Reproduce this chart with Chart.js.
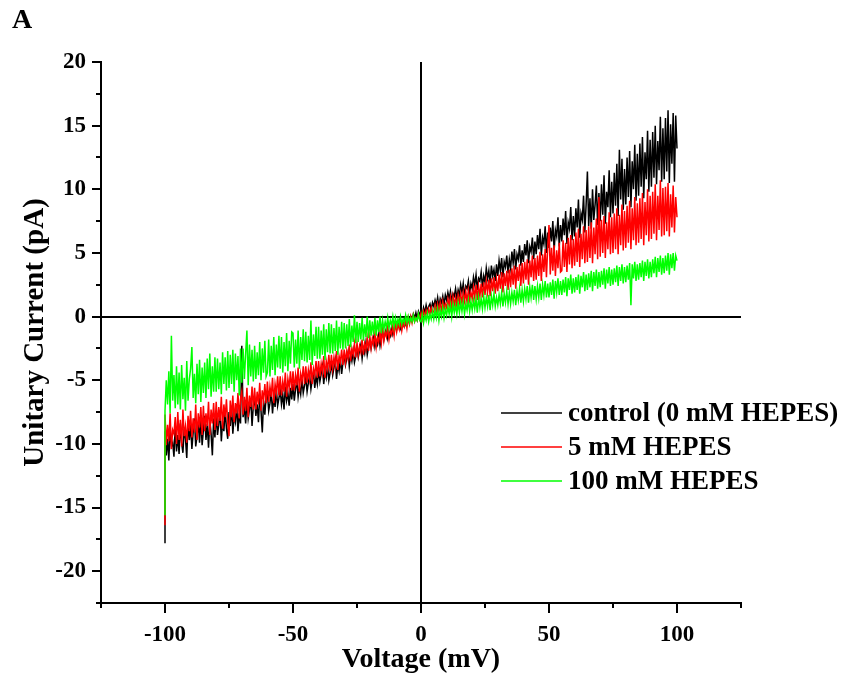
<!DOCTYPE html>
<html>
<head>
<meta charset="utf-8">
<script src="https://cdn.jsdelivr.net/npm/chart.js@4.4.1/dist/chart.umd.min.js"></script>
<style>
  html, body { margin: 0; padding: 0; background: #fff; }
  #wrap { width: 849px; height: 679px; }
</style>
</head>
<body>
<div id="wrap"><canvas id="c" width="849" height="679"></canvas></div>
<script>
// ---- data ----
const panelLabel = 'A';
const xTitle = 'Voltage (mV)';
const yTitle = 'Unitary Current (pA)';
const seriesNames = ['control (0 mM HEPES)', '5 mM HEPES', '100 mM HEPES'];
const seriesColors = ['#000000', '#ff0000', '#00ff00'];
const xTickLabels = [-100, -50, 0, 50, 100];
const yTickLabels = [-20, -15, -10, -5, 0, 5, 10, 15, 20];

// voltage ramp samples (mV); the first sample is the onset transient at -100 mV
const voltage = [-100,
-100,-99.5,-99,-98.5,-98,-97.5,-97,-96.5,-96,-95.5,
-95,-94.5,-94,-93.5,-93,-92.5,-92,-91.5,-91,-90.5,
-90,-89.5,-89,-88.5,-88,-87.5,-87,-86.5,-86,-85.5,
-85,-84.5,-84,-83.5,-83,-82.5,-82,-81.5,-81,-80.5,
-80,-79.5,-79,-78.5,-78,-77.5,-77,-76.5,-76,-75.5,
-75,-74.5,-74,-73.5,-73,-72.5,-72,-71.5,-71,-70.5,
-70,-69.5,-69,-68.5,-68,-67.5,-67,-66.5,-66,-65.5,
-65,-64.5,-64,-63.5,-63,-62.5,-62,-61.5,-61,-60.5,
-60,-59.5,-59,-58.5,-58,-57.5,-57,-56.5,-56,-55.5,
-55,-54.5,-54,-53.5,-53,-52.5,-52,-51.5,-51,-50.5,
-50,-49.5,-49,-48.5,-48,-47.5,-47,-46.5,-46,-45.5,
-45,-44.5,-44,-43.5,-43,-42.5,-42,-41.5,-41,-40.5,
-40,-39.5,-39,-38.5,-38,-37.5,-37,-36.5,-36,-35.5,
-35,-34.5,-34,-33.5,-33,-32.5,-32,-31.5,-31,-30.5,
-30,-29.5,-29,-28.5,-28,-27.5,-27,-26.5,-26,-25.5,
-25,-24.5,-24,-23.5,-23,-22.5,-22,-21.5,-21,-20.5,
-20,-19.5,-19,-18.5,-18,-17.5,-17,-16.5,-16,-15.5,
-15,-14.5,-14,-13.5,-13,-12.5,-12,-11.5,-11,-10.5,
-10,-9.5,-9,-8.5,-8,-7.5,-7,-6.5,-6,-5.5,
-5,-4.5,-4,-3.5,-3,-2.5,-2,-1.5,-1,-0.5,
0,0.5,1,1.5,2,2.5,3,3.5,4,4.5,
5,5.5,6,6.5,7,7.5,8,8.5,9,9.5,
10,10.5,11,11.5,12,12.5,13,13.5,14,14.5,
15,15.5,16,16.5,17,17.5,18,18.5,19,19.5,
20,20.5,21,21.5,22,22.5,23,23.5,24,24.5,
25,25.5,26,26.5,27,27.5,28,28.5,29,29.5,
30,30.5,31,31.5,32,32.5,33,33.5,34,34.5,
35,35.5,36,36.5,37,37.5,38,38.5,39,39.5,
40,40.5,41,41.5,42,42.5,43,43.5,44,44.5,
45,45.5,46,46.5,47,47.5,48,48.5,49,49.5,
50,50.5,51,51.5,52,52.5,53,53.5,54,54.5,
55,55.5,56,56.5,57,57.5,58,58.5,59,59.5,
60,60.5,61,61.5,62,62.5,63,63.5,64,64.5,
65,65.5,66,66.5,67,67.5,68,68.5,69,69.5,
70,70.5,71,71.5,72,72.5,73,73.5,74,74.5,
75,75.5,76,76.5,77,77.5,78,78.5,79,79.5,
80,80.5,81,81.5,82,82.5,83,83.5,84,84.5,
85,85.5,86,86.5,87,87.5,88,88.5,89,89.5,
90,90.5,91,91.5,92,92.5,93,93.5,94,94.5,
95,95.5,96,96.5,97,97.5,98,98.5,99,99.5,
100];

const controlCurrent = [-17.8,
-9.0,-10.9,-9.6,-11.3,-8.7,-10.2,-9.9,-11.0,-8.5,-10.6,
-9.3,-10.8,-8.4,-9.9,-10.7,-8.8,-9.6,-11.1,-8.2,-9.7,
-8.5,-10.4,-9.1,-8.0,-10.2,-9.4,-8.3,-9.9,-7.9,-10.1,
-8.9,-7.8,-9.7,-8.4,-10.3,-8.1,-9.2,-10.9,-8.0,-9.5,
-7.6,-9.3,-8.5,-7.4,-9.8,-8.2,-9.0,-7.3,-8.8,-9.6,
-7.5,-8.6,-7.0,-9.2,-7.8,-8.3,-6.9,-9.0,-7.6,-8.4,
-2.3,-7.9,-7.1,-8.4,-6.6,-8.0,-7.3,-6.4,-8.6,-7.0,
-6.5,-7.8,-6.9,-8.3,-6.2,-7.4,-9.1,-6.6,-7.7,-6.3,
-6.0,-7.4,-6.8,-5.9,-7.6,-6.3,-7.1,-5.7,-7.0,-6.4,
-5.8,-6.9,-6.1,-7.3,-5.5,-6.6,-6.0,-7.0,-5.6,-6.5,
-5.3,-6.6,-5.7,-5.0,-6.3,-5.5,-6.1,-4.9,-6.0,-5.4,
-4.8,-5.9,-5.2,-4.6,-5.7,-5.0,-4.4,-5.6,-4.7,-5.3,
-4.2,-5.1,-4.5,-3.9,-5.3,-4.3,-4.8,-3.8,-5.0,-4.4,
-3.7,-4.6,-4.0,-3.4,-4.9,-3.8,-4.3,-3.3,-4.5,-3.6,
-3.1,-3.8,-3.3,-2.8,-3.9,-3.0,-3.5,-2.7,-3.6,-3.1,
-2.4,-3.2,-2.7,-2.2,-3.3,-2.5,-2.9,-2.0,-3.0,-2.4,
-1.8,-2.5,-2.0,-1.6,-2.4,-1.9,-2.2,-1.4,-2.3,-1.7,
-1.1,-1.8,-1.3,-0.9,-1.7,-1.2,-1.5,-0.8,-1.4,-1.0,
-0.5,-1.0,-0.6,-0.3,-0.9,-0.5,-0.7,-0.2,-0.6,-0.3,
-0.1,-0.4,0.0,-0.3,0.2,-0.1,0.3,-0.2,0.4,0.1,
0.5,0.1,0.7,0.3,0.9,0.4,0.8,1.0,0.5,1.1,
0.8,1.3,0.9,1.5,0.7,1.4,1.1,1.6,0.9,1.7,
1.3,1.9,1.4,2.0,1.2,1.8,1.6,2.2,1.4,2.1,
1.7,2.5,1.9,2.6,1.6,2.4,2.2,2.8,1.8,2.6,
2.2,3.1,2.5,3.3,2.1,3.0,2.8,3.5,2.3,3.2,
2.7,3.8,3.0,3.6,2.6,4.0,3.2,3.7,2.8,4.1,
3.2,4.4,3.6,4.6,3.1,4.3,3.9,4.8,3.4,4.5,
3.8,5.1,4.2,5.3,3.7,4.9,4.5,5.6,4.0,5.2,
4.3,5.7,4.8,6.0,4.2,5.5,5.1,6.2,4.5,5.9,
4.9,6.4,5.3,6.9,4.8,6.2,5.7,7.1,5.0,6.6,
5.4,7.0,5.9,7.5,5.2,6.8,6.3,7.8,5.5,7.2,
5.9,7.7,6.4,8.3,5.7,7.4,6.9,8.6,6.0,7.9,
6.3,8.5,7.0,9.2,6.2,8.1,7.6,9.5,6.6,8.8,
11.4,7.1,9.3,6.9,10.0,7.6,8.8,10.3,7.2,9.7,
7.5,10.4,8.0,11.1,7.3,9.8,8.6,11.5,7.8,10.6,
8.1,11.3,8.7,12.0,7.9,13.1,9.2,12.4,8.4,11.6,
8.8,12.5,9.4,13.0,8.6,12.2,10.0,13.5,9.1,12.8,
9.5,13.6,10.2,14.1,9.3,12.9,10.8,14.6,9.8,13.9,
10.2,14.5,10.9,15.0,10.4,13.8,11.5,15.7,10.6,14.8,
10.8,15.6,11.4,16.2,10.5,15.1,12.0,16.0,10.6,15.8,
13.2];

const hepes5Current = [-16.4,
-7.7,-10.1,-8.5,-9.8,-7.6,-10.4,-8.9,-9.2,-7.9,-10.0,
-7.5,-9.7,-8.1,-10.2,-7.3,-9.4,-8.6,-9.9,-7.8,-9.0,
-7.4,-9.5,-8.0,-9.1,-6.9,-9.7,-7.6,-8.7,-7.1,-9.3,
-7.0,-9.0,-7.6,-8.6,-6.7,-9.3,-7.3,-8.4,-6.8,-8.9,
-6.7,-8.6,-7.1,-8.2,-6.3,-8.8,-6.9,-7.9,-6.5,-8.4,
-9.4,-6.6,-7.9,-6.2,-8.3,-6.8,-7.6,-6.0,-8.0,-6.5,
-5.9,-7.7,-6.3,-7.4,-5.6,-7.9,-6.2,-7.1,-5.5,-7.3,
-5.6,-7.3,-5.9,-6.9,-5.2,-7.4,-5.8,-6.6,-5.3,-6.8,
-5.1,-6.7,-5.5,-6.3,-4.8,-6.8,-5.3,-6.0,-4.7,-6.2,
-4.7,-6.2,-5.1,-5.9,-4.4,-6.3,-4.9,-5.6,-4.3,-5.8,
-4.3,-5.8,-4.6,-5.4,-4.0,-5.9,-4.5,-5.1,-3.9,-5.3,
-3.9,-5.2,-4.2,-4.9,-3.6,-5.3,-4.1,-4.6,-3.5,-4.8,
-3.5,-4.7,-3.7,-4.4,-3.1,-4.8,-3.5,-4.1,-3.0,-4.3,
-3.0,-4.1,-3.2,-3.9,-2.7,-4.2,-3.1,-3.6,-2.6,-3.8,
-2.6,-3.6,-2.7,-3.3,-2.2,-3.5,-2.5,-3.0,-2.1,-3.2,
-2.1,-3.0,-2.3,-2.8,-1.8,-3.0,-2.1,-2.6,-1.7,-2.7,
-1.6,-2.5,-1.7,-2.2,-1.3,-2.4,-1.6,-2.0,-1.2,-2.1,
-1.0,-1.9,-1.2,-1.6,-0.8,-1.8,-1.1,-1.4,-0.7,-1.5,
-0.5,-1.2,-0.6,-1.0,-0.3,-1.1,-0.5,-0.8,-0.2,-0.9,
-0.1,-0.6,0.0,-0.5,0.1,-0.4,-0.1,-0.3,0.2,-0.2,
0.3,-0.2,0.4,0.0,0.5,0.1,0.6,0.2,0.7,0.3,
0.4,0.9,0.3,1.0,0.5,1.1,0.4,1.2,0.6,1.0,
0.7,1.4,0.8,1.5,0.6,1.6,0.9,1.5,0.8,1.7,
1.1,1.8,1.0,1.9,1.2,2.0,1.1,2.1,1.3,1.9,
1.4,2.3,1.5,2.5,1.3,2.4,1.6,2.6,1.5,2.7,
1.7,2.8,1.9,2.9,1.6,3.0,2.0,3.1,1.8,2.9,
2.0,3.3,2.2,3.5,1.9,3.4,2.4,3.6,2.1,3.7,
2.3,3.8,2.5,4.0,2.2,3.9,2.8,4.1,2.4,4.2,
2.6,4.3,2.9,4.5,2.5,4.4,3.1,4.8,2.8,4.6,
2.9,4.8,3.2,5.1,2.8,4.9,3.5,5.3,3.1,5.5,
7.2,3.3,5.4,3.6,5.6,3.2,5.2,3.8,5.8,3.5,
3.6,6.0,3.9,5.8,3.5,6.2,4.1,6.4,3.8,6.1,
4.0,6.6,4.3,6.9,3.9,6.5,4.5,7.1,4.2,6.8,
4.3,7.1,4.6,7.4,4.2,7.0,4.9,7.7,4.5,9.4,
4.7,7.6,5.0,7.9,4.6,7.4,5.3,8.2,4.9,7.8,
5.0,8.1,5.3,8.5,4.9,8.0,5.6,8.8,5.2,8.3,
5.4,8.7,5.8,9.1,5.3,8.5,6.0,9.4,5.6,8.9,
5.8,9.3,6.1,9.7,5.6,9.0,6.4,10.0,5.9,9.5,
6.1,9.8,6.5,10.4,6.0,9.5,6.8,10.7,6.3,10.1,
6.4,10.2,6.7,10.5,6.3,9.6,7.0,10.3,6.6,9.4,
7.8];

const hepes100Current = [-15.6,
-7.4,-5.0,-6.9,-4.3,-7.6,-1.5,-6.6,-4.6,-7.2,-3.9,
-6.9,-4.4,-7.3,-3.8,-6.5,-4.8,-7.4,-3.5,-6.6,-4.9,
-4.1,-2.4,-6.4,-4.5,-6.8,-3.7,-6.1,-3.4,-6.7,-4.0,
-6.0,-3.6,-6.4,-3.3,-5.7,-2.9,-6.3,-3.9,-5.9,-3.2,
-5.9,-3.3,-5.7,-3.6,-6.1,-2.8,-5.3,-3.2,-5.8,-2.7,
-5.6,-3.0,-5.3,-2.6,-5.9,-2.9,-5.0,-3.1,-6.2,-2.5,
-5.2,-2.5,-4.9,-2.9,-1.1,-5.4,-2.2,-4.7,-2.6,-5.1,
-2.3,-4.9,-2.8,-4.6,-2.0,-5.0,-2.5,-4.4,-1.9,-4.7,
-4.4,-1.8,-4.7,-2.3,-4.2,-1.6,-4.6,-2.2,-4.0,-1.5,
-4.1,-1.6,-4.4,-2.0,-3.9,-1.3,-4.3,-1.9,-3.7,-1.2,
-1.3,-4.0,-1.8,-3.7,-1.1,-4.1,-1.6,-3.4,-1.0,-3.5,
-1.2,-3.6,-1.5,-3.4,-0.3,-3.8,-1.4,-3.1,-0.8,-3.3,
-0.8,-3.3,-1.1,-3.0,-0.6,-3.4,-1.0,-2.8,-0.5,-2.9,
-0.6,-2.9,-0.9,-2.7,-0.3,-3.0,-0.8,-2.5,-0.4,-2.6,
-0.5,-2.5,-0.6,-2.3,-0.2,-2.4,-0.7,-2.0,0.1,-2.1,
-0.4,-2.0,-0.5,-1.8,-0.1,-1.9,-0.6,-1.6,0.0,-1.7,
-0.3,-1.5,-0.4,-1.4,-0.1,-1.5,-0.3,-1.2,0.0,-1.3,
-0.3,-1.0,-0.4,-0.9,-0.1,-0.9,-0.3,-0.7,0.0,-0.8,
-0.1,-0.7,-0.2,-0.6,0.0,-0.6,-0.2,-0.5,0.1,-0.5,
0.0,-0.5,-0.1,-0.4,0.1,-0.4,-0.1,-0.3,0.2,-0.3,
-0.4,0.2,-0.5,0.1,-0.3,0.3,-0.4,0.2,-0.2,0.4,
-0.2,0.5,-0.1,0.6,-0.3,0.5,0.0,0.7,-0.1,0.6,
0.1,0.8,0.2,0.9,0.0,1.0,0.3,0.9,0.2,1.1,
0.3,1.1,0.4,1.2,0.2,1.0,0.5,1.3,0.4,1.2,
0.5,1.3,0.6,1.4,0.3,1.5,0.7,1.4,0.6,1.6,
0.7,1.5,0.8,1.7,0.5,1.6,0.9,1.8,0.8,1.5,
0.9,1.7,1.0,1.9,0.8,1.8,1.1,2.0,1.0,1.9,
1.0,1.9,1.2,2.1,0.9,2.0,1.3,2.2,1.1,2.1,
1.2,2.2,1.4,2.4,1.1,2.3,1.5,2.5,1.3,2.4,
1.4,2.4,1.5,2.6,1.3,2.5,1.7,2.8,1.5,2.6,
1.5,2.7,1.7,2.9,1.4,2.8,1.9,3.0,1.7,2.8,
1.7,2.9,1.9,3.1,1.6,3.0,2.1,3.3,1.8,3.0,
1.9,3.1,2.1,3.3,1.8,3.2,2.3,3.5,2.0,3.3,
2.1,3.4,2.3,3.6,2.0,3.5,2.4,3.7,2.2,3.5,
2.3,3.6,2.5,3.8,2.2,3.7,2.6,3.9,2.4,3.7,
2.5,3.8,2.7,4.0,2.4,3.9,2.8,4.1,2.6,3.9,
2.7,4.0,2.9,4.2,0.9,4.1,3.0,4.3,2.8,4.1,
2.9,4.2,3.1,4.4,2.8,4.3,3.2,4.5,3.0,4.3,
3.1,4.5,3.4,4.7,3.1,4.6,3.5,4.8,3.3,4.6,
3.4,4.8,3.6,5.0,3.3,4.9,3.8,5.0,3.6,4.8,
4.4];

const seriesValues = [controlCurrent, hepes5Current, hepes100Current];

// ---- chart ----
const FONT = '"Liberation Serif", "Times New Roman", serif';
const toPoints = vals => vals.map((v, i) => ({ x: voltage[i], y: v }));

const datasets = seriesValues.map((vals, i) => ({
  label: seriesNames[i],
  data: toPoints(vals),
  borderColor: seriesColors[i],
  backgroundColor: seriesColors[i],
  borderWidth: 1.5,
  pointRadius: 0,
  showLine: true,
  tension: 0,
  order: 3 - i
}));

const tickMarks = {
  id: 'tickMarks',
  afterDraw(chart) {
    const ctx = chart.ctx;
    const xs = chart.scales.x, ys = chart.scales.y;
    const area = chart.chartArea;
    ctx.save();
    ctx.strokeStyle = '#000';
    ctx.lineWidth = 2;
    ctx.beginPath();
    ys.ticks.forEach(t => {
      const py = Math.round(ys.getPixelForValue(t.value));
      const len = yTickLabels.includes(t.value) ? 9 : 5;
      ctx.moveTo(area.left, py);
      ctx.lineTo(area.left - len, py);
    });
    xs.ticks.forEach(t => {
      const px = Math.round(xs.getPixelForValue(t.value));
      const len = xTickLabels.includes(t.value) ? 10 : 5;
      ctx.moveTo(px, area.bottom);
      ctx.lineTo(px, area.bottom + len);
    });
    ctx.stroke();

    // panel label
    ctx.fillStyle = '#000';
    ctx.font = 'bold 28px ' + FONT;
    ctx.textAlign = 'left';
    ctx.textBaseline = 'alphabetic';
    ctx.fillText(panelLabel, 12, 28);

    // legend
    const lx0 = 501, lx1 = 562, ly0 = 413, dy = 34;
    ctx.font = 'bold 27px ' + FONT;
    ctx.textBaseline = 'middle';
    seriesNames.forEach((name, i) => {
      const y = ly0 + i * dy;
      ctx.strokeStyle = seriesColors[i];
      ctx.lineWidth = 1.5;
      ctx.beginPath();
      ctx.moveTo(lx0, y);
      ctx.lineTo(lx1, y);
      ctx.stroke();
      ctx.fillStyle = '#000';
      ctx.fillText(name, 568, y + 1);
    });
    ctx.restore();
  }
};

new Chart(document.getElementById('c'), {
  type: 'scatter',
  data: { datasets },
  plugins: [tickMarks],
  options: {
    responsive: false,
    animation: false,
    events: [],
    layout: { padding: { top: 62, right: 108, left: 0, bottom: 0 } },
    plugins: { legend: { display: false }, tooltip: { enabled: false } },
    scales: {
      x: {
        type: 'linear',
        min: -125, max: 125,
        afterFit: s => { s.height = 76; },
        ticks: {
          stepSize: 25,
          autoSkip: false,
          maxRotation: 0,
          padding: 18,
          color: '#000',
          font: { family: FONT, size: 23, weight: 'bold' },
          callback: v => xTickLabels.includes(v) ? String(v) : ''
        },
        grid: {
          drawTicks: false,
          lineWidth: 2,
          color: c => (c.tick && c.tick.value === 0) ? '#000' : 'rgba(0,0,0,0)'
        },
        border: { display: true, color: '#000', width: 2 },
        title: {
          display: true, text: xTitle, color: '#000',
          font: { family: FONT, size: 28, weight: 'bold' },
          padding: { top: 0, bottom: 2 }
        }
      },
      y: {
        type: 'linear',
        min: -22.5, max: 20,
        afterFit: s => { s.width = 101; },
        ticks: {
          stepSize: 2.5,
          autoSkip: false,
          padding: 15,
          color: '#000',
          font: { family: FONT, size: 23, weight: 'bold' },
          callback: v => yTickLabels.includes(v) ? String(v) : ''
        },
        grid: {
          drawTicks: false,
          lineWidth: 2,
          color: c => (c.tick && c.tick.value === 0) ? '#000' : 'rgba(0,0,0,0)'
        },
        border: { display: true, color: '#000', width: 2 },
        title: {
          display: true, text: yTitle, color: '#000',
          font: { family: FONT, size: 29, weight: 'bold' },
          padding: { top: 18, bottom: 0 }
        }
      }
    }
  }
});
</script>
</body>
</html>
